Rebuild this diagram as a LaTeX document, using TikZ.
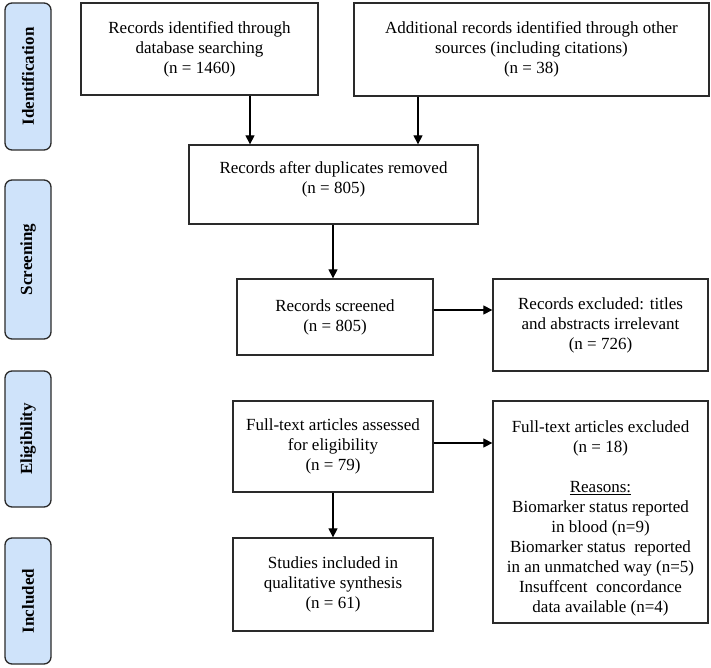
\documentclass[tikz,border=0pt]{standalone}
\usepackage{fontspec}
\setmainfont{Liberation Serif}
\usetikzlibrary{arrows.meta}
\definecolor{sidefill}{HTML}{CFE3FA}
\definecolor{edge}{HTML}{2A2A2A}
\begin{document}
\begin{tikzpicture}[x=1pt,y=-1pt,
  box/.style={draw=edge,line width=1.3pt,fill=white,align=center,inner sep=0pt,
    font=\fontsize{17}{20}\selectfont},
  side/.style={draw=edge,line width=1.3pt,fill=sidefill,rounded corners=7pt,
    minimum width=46pt,inner sep=0pt},
  sidelabel/.style={rotate=90,font=\fontsize{17}{20}\selectfont\bfseries},
  arr/.style={draw=black,line width=1.2pt,-{Triangle[length=9pt,width=9pt]}}]
\useasboundingbox (0,0) rectangle (711,668);
% sidebars
\node[side,minimum height=147pt] (s1) at (28,76.5) {};
\node[sidelabel] (t1) at (s1.center) {Identification};
\node[side,minimum height=159pt] (s2) at (28,259.5) {};
\node[sidelabel] (t2) at (s2.center) {Screening};
\node[side,minimum height=136pt] (s3) at (28,439) {};
\node[sidelabel] (t3) at (s3.center) {Eligibility};
\node[side,minimum height=126pt] (s4) at (28,601) {};
\node[sidelabel] (t4) at (s4.center) {Included};
% boxes
\node[box,minimum width=237pt,minimum height=92pt] (b1) at (199.5,49)
  {Records identified through\\database searching\\(n = 1460)};
\node[box,minimum width=355pt,minimum height=93pt] (b2) at (531.5,49.5)
  {Additional records identified through other\\sources (including citations)\\(n = 38)};
\node[box,minimum width=289pt,minimum height=79pt] (b3) at (333.5,184.5)
  {Records after duplicates removed\\(n = 805)\\[-7pt]\mbox{}};
\node[box,minimum width=196pt,minimum height=76pt] (b4) at (335,317)
  {Records screened\\(n = 805)};
\node[box,minimum width=215pt,minimum height=92pt] (b5) at (600.5,325)
  {Records excluded: titles\\and abstracts irrelevant\\(n = 726)};
\node[box,minimum width=200pt,minimum height=91pt] (b6) at (333,446.5)
  {Full-text articles assessed\\for eligibility\\(n = 79)};
\node[box,minimum width=215pt,minimum height=222pt] (b7) at (600.5,512)
  {\rule{0pt}{25pt}Full-text articles excluded\\(n = 18)\\[20pt]\underline{Reasons:}\\Biomarker status reported\\in blood (n=9)\\Biomarker status\ \ reported\\in an unmatched way (n=5)\\Insuffcent\ \ concordance\\data available (n=4)};
\node[box,minimum width=200pt,minimum height=93pt] (b8) at (333,584.5)
  {Studies included in\\qualitative synthesis\\(n = 61)};
% connectors
\coordinate (x1) at (250,0);
\coordinate (x2) at (418,0);
\coordinate (x3) at (333,0);
\coordinate (y1) at (0,310);
\coordinate (y2) at (0,443);
\draw[arr] (x1 |- b1.south) -- (x1 |- b3.north);
\draw[arr] (x2 |- b2.south) -- (x2 |- b3.north);
\draw[arr] (x3 |- b3.south) -- (x3 |- b4.north);
\draw[arr] (b4.east |- y1) -- (b5.west |- y1);
\draw[arr] (b6.east |- y2) -- (b7.west |- y2);
\draw[arr] (b6.south) -- (b8.north);
\end{tikzpicture}
\end{document}
